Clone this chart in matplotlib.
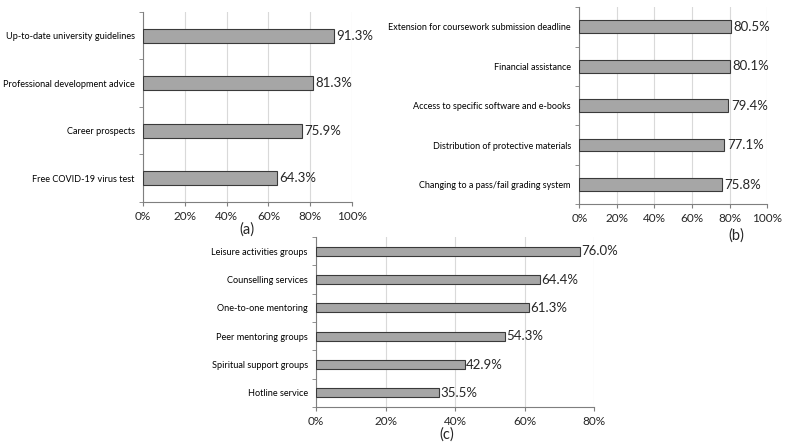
import matplotlib.pyplot as plt
from matplotlib.ticker import FixedLocator, PercentFormatter

plt.rcParams['font.family'] = ['Lato', 'DejaVu Sans']

# panel (a)
a_labels = ["Free COVID-19 virus test", "Career prospects",
            "Professional development advice", "Up-to-date university guidelines"]
a_values = [64.3, 75.9, 81.3, 91.3]

# panel (b)
b_labels = ["Changing to a pass/fail grading system", "Distribution of protective materials",
            "Access to specific software and e-books", "Financial assistance",
            "Extension for coursework submission deadline"]
b_values = [75.8, 77.1, 79.4, 80.1, 80.5]

# panel (c)
c_labels = ["Hotline service", "Spiritual support groups", "Peer mentoring groups",
            "One-to-one mentoring", "Counselling services", "Leisure activities groups"]
c_values = [35.5, 42.9, 54.3, 61.3, 64.4, 76.0]

fig = plt.figure(figsize=(7.86, 4.43), dpi=100)


def panel(rect, labels, values, xmax, tag, tag_xy, bar_h, pad, lab_size):
    ax = fig.add_axes(rect)
    n = len(labels)
    pos = list(range(n))
    ax.barh(pos, values, height=bar_h, color="#a6a6a6", edgecolor="#3a3a3a",
            linewidth=0.8, zorder=3)
    for p, v in zip(pos, values):
        ax.text(v + pad, p, f"{v:.1f}%", va="center", ha="left", fontsize=9.5,
                color="#262626")
    ax.set_xlim(0, xmax)
    ax.set_ylim(-0.5, n - 0.5)
    ax.set_xticks(range(0, xmax + 1, 20))
    ax.xaxis.set_major_formatter(PercentFormatter(decimals=0))
    ax.set_yticks(pos)
    ax.set_yticklabels(labels, fontsize=lab_size)
    ax.yaxis.set_minor_locator(FixedLocator([p - 0.5 for p in range(n + 1)]))
    ax.tick_params(axis="y", which="major", length=0, pad=6)
    ax.tick_params(axis="y", which="minor", length=3, color="#7f7f7f")
    ax.tick_params(axis="x", length=3, color="#7f7f7f", labelsize=8.5,
                   labelcolor="#262626")
    ax.grid(axis="x", color="#d9d9d9", linewidth=0.8, zorder=0)
    for s in ("top", "right"):
        ax.spines[s].set_visible(False)
    for s in ("left", "bottom"):
        ax.spines[s].set_color("#7f7f7f")
    fig.text(tag_xy[0], tag_xy[1], tag, ha="center", va="center", fontsize=10.5,
             color="#262626")
    return ax


panel([0.182, 0.544, 0.266, 0.429], a_labels, a_values, 100, "(a)",
      (247 / 786, 1 - 230 / 443), 0.3, 1, 6.6)
panel([0.737, 0.539, 0.239, 0.445], b_labels, b_values, 100, "(b)",
      (736 / 786, 1 - 236 / 443), 0.32, 1.5, 6.5)
panel([0.402, 0.081, 0.354, 0.384], c_labels, c_values, 80, "(c)",
      (447 / 786, 1 - 435 / 443), 0.32, 0.3, 6.6)

fig.savefig("out.png", dpi=100)
